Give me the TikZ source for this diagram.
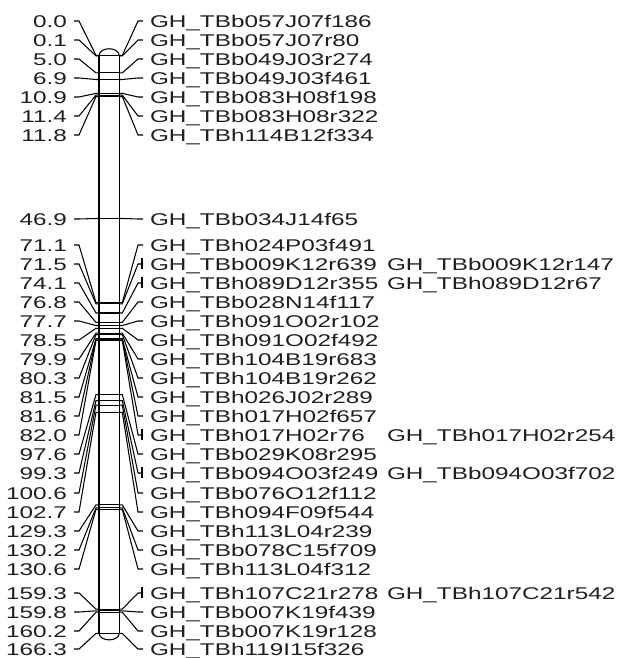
\documentclass[tikz,border=0pt]{standalone}
\usepackage{fontspec}
\usetikzlibrary{calc}
\newfontfamily\lab[FakeStretch=1.43]{Liberation Sans}
\definecolor{txt}{rgb}{0.12,0.12,0.12}
\begin{document}
\begin{tikzpicture}[x=1pt,y=-1pt,
  lbl/.style={inner sep=0pt,outer sep=0pt,text=txt,font=\lab\fontsize{17}{20}\selectfont},
  conn/.style={line width=1.05pt,black},
  locus/.style={line width=1.05pt,black},
  barline/.style={line width=1.5pt,black}]
\useasboundingbox (0,0) rectangle (616,658);
% chromosome bar
\coordinate (tl) at (99,55.5);
\coordinate (tr) at (119.3,55.5);
\coordinate (bl) at (99,633.4);
\coordinate (br) at (119.3,633.4);
\draw[barline] (tl) -- (bl);
\draw[barline] (tr) -- (br);
\draw[line width=1.1pt] (tl) .. controls (100,46.5) and (118.3,46.5) .. (tr);
\draw[line width=1.1pt] (bl) .. controls (100,642) and (118.3,642) .. (br);
% loci, labels, connectors
\foreach \i/\cm/\yl/\lt/\rt in {
 1/0.0/21/0.0/GH\_TBb057J07f186,
 2/0.1/40/0.1/GH\_TBb057J07r80,
 3/5.0/59/5.0/GH\_TBb049J03r274,
 4/6.9/78/6.9/GH\_TBb049J03f461,
 5/10.9/97/10.9/GH\_TBb083H08f198,
 6/11.4/116/11.4/GH\_TBb083H08r322,
 7/11.8/135/11.8/GH\_TBh114B12f334,
 8/46.9/219/46.9/GH\_TBb034J14f65,
 9/71.1/245/71.1/GH\_TBh024P03f491,
 10/71.5/264/71.5/GH\_TBb009K12r639,
 11/74.1/283/74.1/GH\_TBh089D12r355,
 12/76.8/302/76.8/GH\_TBb028N14f117,
 13/77.7/321/77.7/GH\_TBh091O02r102,
 14/78.5/340/78.5/GH\_TBh091O02f492,
 15/79.9/359/79.9/GH\_TBh104B19r683,
 16/80.3/378/80.3/GH\_TBh104B19r262,
 17/81.5/397/81.5/GH\_TBh026J02r289,
 18/81.6/416/81.6/GH\_TBh017H02f657,
 19/82.0/435/82.0/GH\_TBh017H02r76,
 20/97.6/454/97.6/GH\_TBb029K08r295,
 21/99.3/473/99.3/GH\_TBb094O03f249,
 22/100.6/493/100.6/GH\_TBb076O12f112,
 23/102.7/512/102.7/GH\_TBh094F09f544,
 24/129.3/531/129.3/GH\_TBh113L04r239,
 25/130.2/550/130.2/GH\_TBb078C15f709,
 26/130.6/569/130.6/GH\_TBh113L04f312,
 27/159.3/593/159.3/GH\_TBh107C21r278,
 28/159.8/612/159.8/GH\_TBb007K19f439,
 29/160.2/631/160.2/GH\_TBb007K19r128,
 30/166.3/649/166.3/GH\_TBh119I15f326}{
  \pgfmathsetmacro\yc{55.5+3.475*\cm}
  \node[lbl,anchor=base east] (L\i) at (67,\yl+6.1) {\lt};
  \node[lbl,anchor=base west] (R\i) at (150,\yl+6.1) {\rt};
  \coordinate (a\i) at (74,\yl);
  \coordinate (b\i) at (99,\yc);
  \coordinate (c\i) at (119.3,\yc);
  \coordinate (d\i) at (143,\yl);
  \draw[conn] (a\i) -- ++(5,0) -- ($(b\i)+(-3,0)$) -- (b\i);
  \draw[locus] (b\i) -- (c\i);
  \draw[conn] (c\i) -- ++(3,0) -- ($(d\i)+(-5,0)$) -- (d\i);
}
% second names of double labels
\foreach \i/\yl/\rt in {
 10/264/GH\_TBb009K12r147,
 11/283/GH\_TBh089D12r67,
 19/435/GH\_TBh017H02r254,
 21/473/GH\_TBb094O03f702,
 27/593/GH\_TBh107C21r542}{
  \node[lbl,anchor=base west] (S\i) at (387,\yl+6.1) {\rt};
  \draw[conn] ($(d\i)+(-1,-6)$) -- ($(d\i)+(-1,5)$);
}
\end{tikzpicture}
\end{document}
